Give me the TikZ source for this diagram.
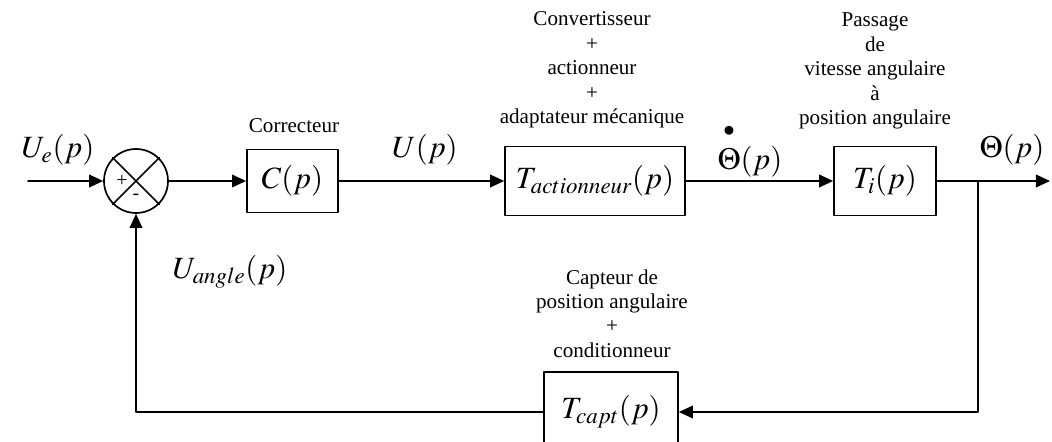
\documentclass[tikz,border=0pt]{standalone}
\usepackage{amsmath}
\usepackage{mathptmx}
\usepackage[no-math]{fontspec}
\setmainfont{Liberation Serif}
\usetikzlibrary{arrows.meta}
\begin{document}
\begin{tikzpicture}[line cap=round,line join=round,>={Triangle[length=10pt,width=9pt]},x=1.0cm,y=1.0cm,line width=1.2pt,
bloc/.style={draw,rectangle,inner sep=0pt,font=\fontsize{22}{24}\selectfont},
txt/.style={align=center,font=\fontsize{15}{17.4}\selectfont},
sig/.style={font=\fontsize{22}{24}\selectfont},
signe/.style={font=\fontsize{14}{14}\selectfont,inner sep=0pt}]
\clip(0,0) rectangle (26.3,11.025);
\node[draw,circle,minimum size=1.6cm,inner sep=0pt] (sum) at (3.4,6.5) {};
\draw (sum.north west) -- (sum.south east);
\draw (sum.north east) -- (sum.south west);
\node[signe] (plus) at (3.05,6.5) {+};
\node[signe] (moins) at (3.4,6.1) {-};
\node[bloc,minimum width=2.275cm,minimum height=1.575cm] (corr) at (7.31,6.5) {$C(p)$};
\node[bloc,minimum width=4.5cm,minimum height=1.725cm] (act) at (14.875,6.5) {$T_{actionneur}(p)$};
\node[bloc,minimum width=2.55cm,minimum height=1.725cm] (ti) at (22.125,6.5) {$T_i(p)$};
\node[bloc,minimum width=3.35cm,minimum height=2cm] (capt) at (15.275,0.725) {$T_{capt}(p)$};
\coordinate (in) at (0.7,6.5);
\coordinate (out) at (26.25,6.5);
\coordinate (br) at (24.45,6.5);
\draw[->] (in) -- (sum);
\draw[->] (sum) -- (corr);
\draw[->] (corr) -- (act);
\draw[->] (act) -- (ti);
\draw[->] (ti) -- (out);
\draw[->] (br) |- (capt.east);
\draw[->] (capt.west) -| (sum.south);
\node[sig] (ue) at (1.45,7.275) {$U_e(p)$};
\node[txt] (lcorr) at (7.35,7.875) {Correcteur};
\node[sig] (u) at (10.625,7.275) {$U(p)$};
\node[txt] (lact) at (14.8,9.275) {Convertisseur\\+\\actionneur\\+\\adaptateur mécanique};
\node[sig] (thp) at (18.75,7.275) {$\overset{\raisebox{4pt}{$\scriptstyle\bullet$}}{\Theta}(p)$};
\node[txt] (lti) at (21.875,9.25) {Passage\\de\\vitesse angulaire\\à\\position angulaire};
\node[sig] (th) at (25.3,7.275) {$\Theta(p)$};
\node[sig] (uang) at (5.75,4.225) {$U_{angle}(p)$};
\node[txt] (lcapt) at (15.3,3.1875) {Capteur de\\position angulaire\\+\\conditionneur};
\end{tikzpicture}
\end{document}
